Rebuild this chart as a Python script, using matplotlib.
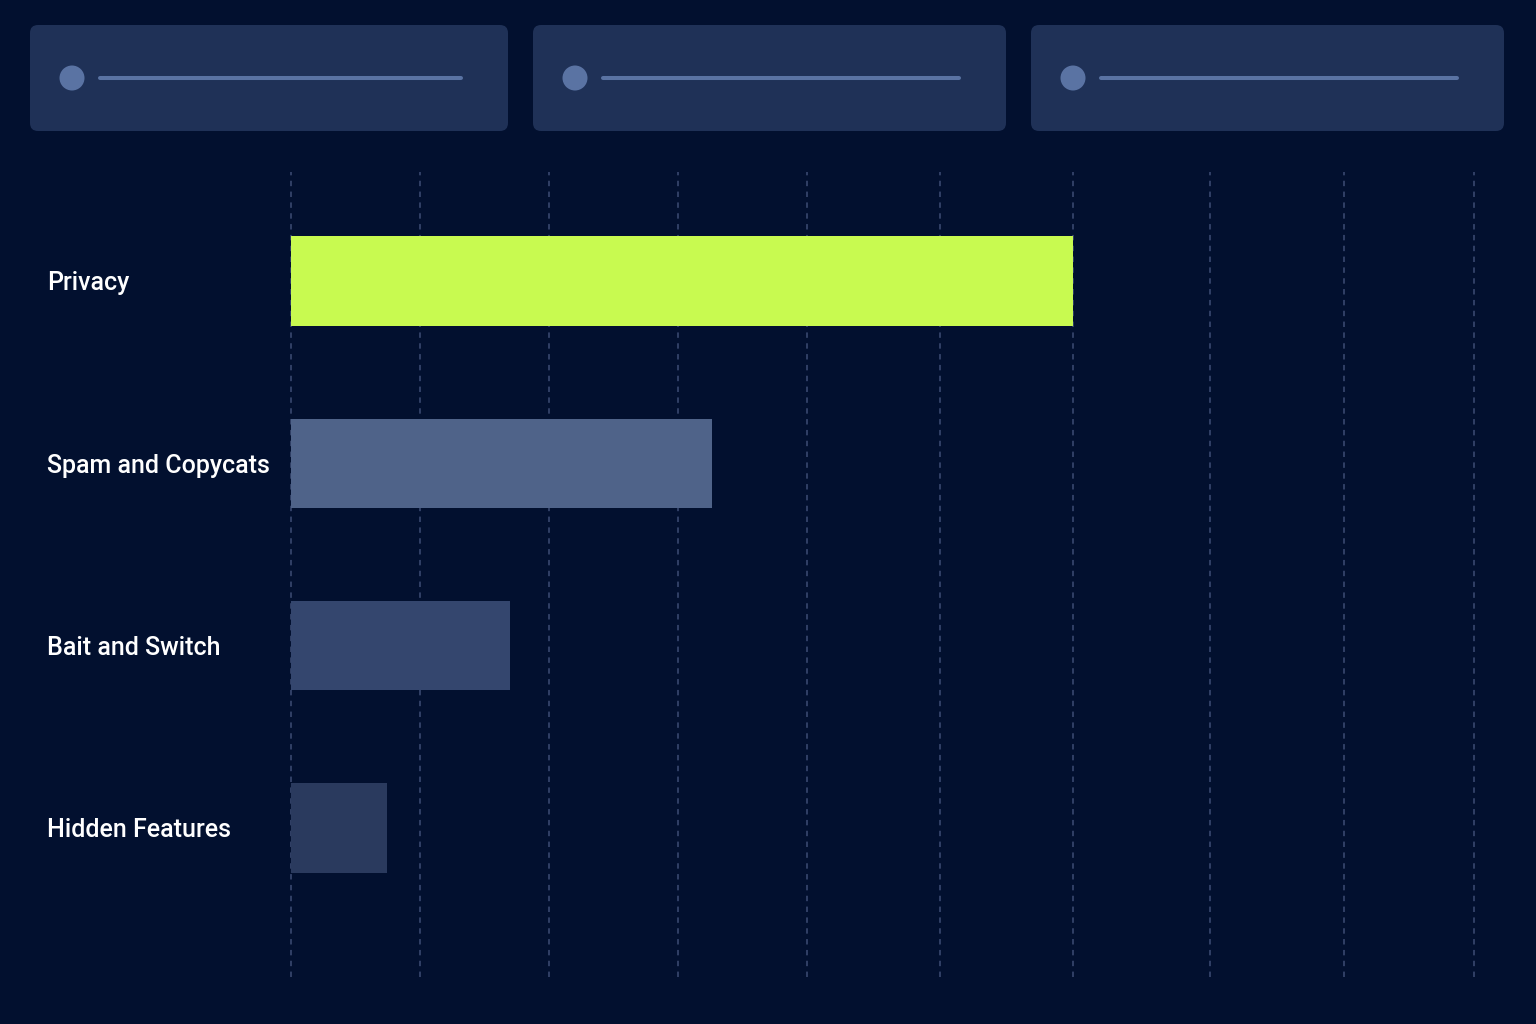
import matplotlib.pyplot as plt
from matplotlib.patches import FancyBboxPatch, Circle
from matplotlib.transforms import blended_transform_factory

categories = ["Privacy", "Spam and Copycats", "Bait and Switch", "Hidden Features"]
values = [100, 53.8, 28.0, 12.3]
bar_colors = ["#C8FA50", "#4F6389", "#34466E", "#2A3A5E"]
grid_ticks = [0, 16.5, 33, 49.5, 66, 83, 100, 117.5, 134.7, 151.3]

bg = "#02102F"
W, H = 1536, 1024

fig = plt.figure(figsize=(W / 100, H / 100), dpi=100, facecolor=bg)

# decoration layer in pixel coordinates
deco = fig.add_axes([0, 0, 1, 1])
deco.set_xlim(0, W)
deco.set_ylim(H, 0)
deco.axis("off")
deco.set_facecolor(bg)

cards = [(30, 508), (533, 1006), (1031, 1504)]
for x0, x1 in cards:
    deco.add_patch(FancyBboxPatch((x0 + 8, 25 + 8), x1 - x0 - 16, 106 - 16,
                                  boxstyle="round,pad=8", fc="#1F3157", ec="none"))
    deco.add_patch(Circle((x0 + 42, 78), 12.5, fc="#5A73A3", ec="none"))
    deco.plot([x0 + 70, x1 - 47], [78, 78], color="#5A73A3", lw=2.9,
              solid_capstyle="round")

# chart
left = (291 - 7.82) / W
width = 156 * 7.82 / W
ax = fig.add_axes([left, 47 / H, width, 805 / H])
ax.set_facecolor("none")
ypos = list(range(len(categories)))
ax.barh(ypos, values, height=0.49, color=bar_colors, zorder=3)
ax.set_xlim(-1, 155)
ax.set_ylim(3.817, -0.598)
for t in grid_ticks:
    ax.axvline(t, color="#34446A", lw=1.3, ls=(0, (3, 3)), zorder=1)
ax.axis("off")

trans = blended_transform_factory(fig.transFigure, ax.transData)
for y, name in zip(ypos, categories):
    ax.text(47 / W, y + 0.012, name, transform=trans, ha="left", va="center",
            color="white", fontsize=18, fontweight="medium",
            family=["Roboto", "DejaVu Sans"])

fig.savefig("out.png", dpi=100, facecolor=bg)
